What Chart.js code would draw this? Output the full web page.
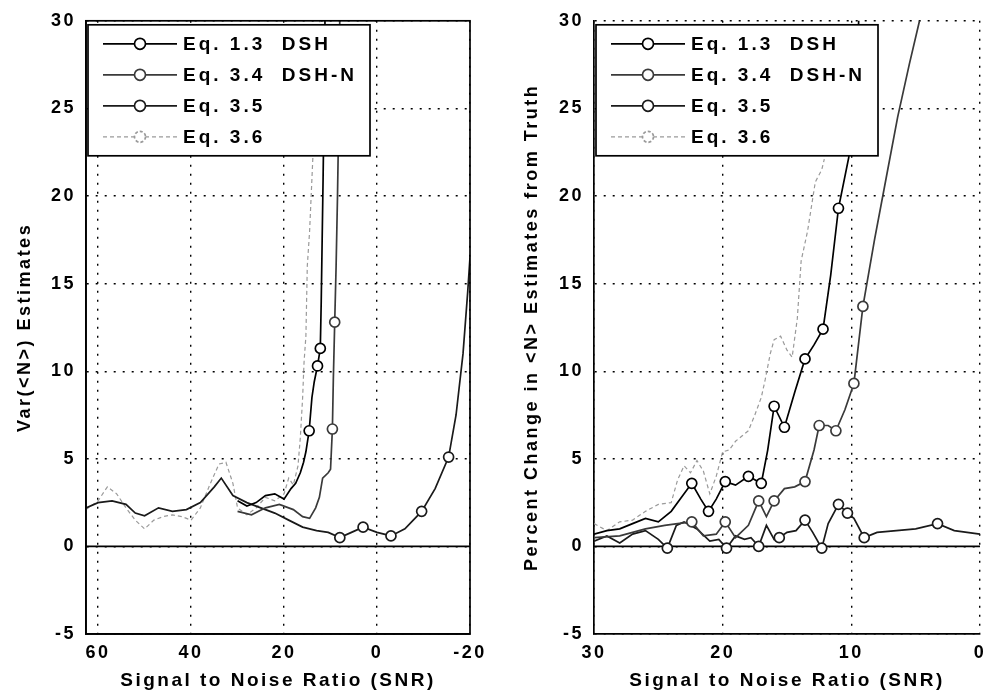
<!DOCTYPE html>
<html><head><meta charset="utf-8">
<script src="https://cdn.jsdelivr.net/npm/chart.js@4/dist/chart.umd.min.js"></script>
<style>
html,body{margin:0;padding:0;background:#fff;}
#wrap{position:relative;width:984px;height:697px;overflow:hidden;}
canvas{position:absolute;top:0;}
#c1{left:0}
#c2{left:492px}
</style></head><body>
<div id="wrap"><canvas id="c1" width="492" height="697"></canvas><canvas id="c2" width="492" height="697"></canvas></div>
<script>
// ---------- labels ----------
const seriesLabels = ["Eq. 1.3  DSH", "Eq. 3.4  DSH-N", "Eq. 3.5", "Eq. 3.6"];
const xTitle = "Signal to Noise Ratio (SNR)";
const leftYTitle = "Var(<N>) Estimates";
const rightYTitle = "Percent Change in <N> Estimates from Truth";
const leftXTicks = [60, 40, 20, 0, -20];
const rightXTicks = [30, 20, 10, 0];
const yTicks = [-5, 0, 5, 10, 15, 20, 25, 30];

// ---------- left panel: Var(<N>) ----------
const leftEq13X = [30, 28, 26, 24, 22, 20, 18.5, 17.5, 16.5, 15.8, 15.3, 14.6, 14.0, 13.5, 12.8, 12.2, 12.0, 11.8, 11.6, 11.4, 11.2];
const leftEq13Y = [2.6, 2.3, 2.5, 2.9, 3.0, 2.7, 3.3, 3.6, 4.2, 4.8, 5.4, 6.6, 8.5, 9.4, 10.3, 11.3, 14, 17.5, 21, 25, 30.5];
const leftEq13Marks = [14.6, 12.8, 12.2];

const leftEq34X = [30, 27, 24, 21, 18, 16, 14.5, 13.2, 12.4, 11.7, 10.5, 10.0, 9.6, 9.4, 9.1, 8.8, 8.5, 8.2, 8.0];
const leftEq34Y = [2.0, 1.8, 2.2, 2.4, 2.1, 1.7, 1.6, 2.2, 2.8, 3.9, 4.2, 4.4, 6.7, 9.5, 12.8, 16, 20, 25, 30.5];
const leftEq34Marks = [9.6, 9.1];

const leftEq35X = [62.6, 60, 57, 54, 52, 50, 47, 44, 41, 38, 35, 33.5, 31, 28, 25, 22, 19, 16, 13, 10.5, 8, 5.5, 3, 0, -3, -6, -9.6, -12.5, -15.4, -17, -18.5, -19.5, -20];
const leftEq35Y = [2.2, 2.5, 2.6, 2.4, 1.9, 1.75, 2.2, 2.0, 2.1, 2.5, 3.4, 3.9, 2.9, 2.5, 2.2, 1.9, 1.5, 1.1, 0.9, 0.8, 0.5, 0.8, 1.1, 0.8, 0.6, 1.0, 2.0, 3.3, 5.1, 7.5, 11, 14.5, 16.5];
const leftEq35Marks = [8, 3, -3, -9.6, -15.4];

const leftEq36X = [62.6, 60, 58, 56, 54, 52, 50, 48, 46, 44, 42, 40, 38, 36, 34, 32.5, 31, 30, 28, 26, 24, 22, 20, 19, 18, 17, 16.5, 16, 15.7, 15.3, 15, 14.5, 14, 13.5, 13, 12.2];
const leftEq36Y = [2.1, 2.6, 3.4, 3.0, 2.2, 1.5, 1.0, 1.5, 1.7, 1.8, 1.7, 1.5, 2.2, 3.5, 4.7, 4.8, 3.6, 2.2, 1.8, 2.2, 2.8, 2.6, 3.0, 3.9, 3.5, 4.6, 6.2, 8.5, 10.5, 12, 16, 18, 21, 24, 27, 30.5];
const leftEq36Marks = [];

// ---------- right panel: percent change ----------
const rightEq13X = [30, 29, 28, 27, 26, 25, 24, 23.2, 22.4, 21.7, 21.1, 20.5, 19.8, 19, 18, 17, 16.5, 16, 15.2, 14.4, 13.6, 12.9, 12.2, 11.6, 11.0, 10.2, 9.6, 9.4];
const rightEq13Y = [0.7, 0.9, 1.0, 1.3, 1.6, 1.4, 2.0, 2.8, 3.6, 2.7, 2.0, 2.7, 3.7, 3.5, 4.0, 3.6, 5.5, 8.0, 6.8, 8.8, 10.7, 11.5, 12.4, 15.5, 19.3, 22.2, 27, 30.5];
const rightEq13Marks = [22.4, 21.1, 19.8, 18, 17, 16, 15.2, 13.6, 12.2, 11.0];

const rightEq34X = [30, 28, 26, 24.5, 23.5, 22.4, 21.5, 20.5, 19.8, 19, 18, 17.2, 16.6, 16.0, 15.2, 14.4, 13.6, 12.9, 12.5, 11.8, 11.2, 10.5, 9.8, 9.1, 8.2, 7.3, 6.4, 5.5, 4.7, 4.5];
const rightEq34Y = [0.5, 0.6, 1.0, 1.2, 1.3, 1.4, 0.6, 0.7, 1.4, 0.5, 1.2, 2.6, 1.7, 2.6, 3.3, 3.4, 3.7, 5.5, 6.9, 6.9, 6.6, 7.8, 9.3, 13.7, 17.5, 21, 24.5, 27.5, 30, 30.5];
const rightEq34Marks = [22.4, 19.8, 17.2, 16.0, 13.6, 12.5, 11.2, 9.8, 9.1];

const rightEq35X = [30, 29, 28, 27, 26, 25, 24.3, 23.6, 23, 22, 21, 20.3, 19.7, 19, 18.3, 17.8, 17.2, 16.6, 16.0, 15.6, 15.0, 14.3, 13.6, 13.0, 12.3, 11.8, 11.0, 10.3, 9.8, 9.0, 8.0, 6.5, 5, 3.3, 2, 0];
const rightEq35Y = [0.3, 0.6, 0.2, 0.7, 0.9, 0.4, -0.1, 1.2, 1.4, 1.0, 0.3, 0.4, -0.1, 0.6, 0.4, 0.5, 0.0, 1.2, 0.4, 0.5, 0.8, 0.9, 1.5, 0.8, -0.1, 1.3, 2.4, 1.9, 1.6, 0.5, 0.8, 0.9, 1.0, 1.3, 0.9, 0.7];
const rightEq35Marks = [24.3, 19.7, 17.2, 15.6, 13.6, 12.3, 11.0, 10.3, 9.0, 3.3];

const rightEq36X = [30, 29, 28, 27, 26, 25, 24, 23.5, 23, 22.5, 22, 21.5, 21, 20.5, 20, 19.5, 19, 18.5, 18, 17.5, 17, 16.7, 16.3, 16.0, 15.5, 15.0, 14.6, 14.2, 13.9, 13.4, 12.8, 12.3, 12.1];
const rightEq36Y = [1.3, 0.9, 1.4, 1.5, 2.0, 2.4, 2.5, 3.8, 4.6, 4.2, 4.9, 4.3, 3.0, 4.0, 5.4, 5.5, 6.0, 6.3, 6.6, 7.5, 8.5, 9.5, 11, 11.8, 12, 11.2, 10.8, 13, 16.3, 18, 20.8, 21.5, 22.1];
const rightEq36Marks = [];

// ---------- styles ----------
const FONT = "'Liberation Sans', Arial, Helvetica, sans-serif";
const seriesColors = ["#000000", "#3a3a3a", "#1a1a1a", "#9a9a9a"];
const seriesDash = [[], [], [], [4, 3]];

function pts(xs, ys) { return xs.map((x, i) => ({x: x, y: ys[i]})); }

function makeDatasets(list) {
  return list.map((s, i) => ({
    label: seriesLabels[i],
    data: pts(s[0], s[1]),
    showLine: true,
    tension: 0,
    borderColor: seriesColors[i],
    borderWidth: i === 3 ? 1.2 : 1.7,
    borderDash: seriesDash[i],
    pointStyle: 'circle',
    pointBackgroundColor: '#ffffff',
    pointBorderColor: seriesColors[i],
    pointBorderWidth: 1.7,
    pointRadius: ctx => (ctx.raw && s[2].includes(ctx.raw.x)) ? 5 : 0,
    pointHoverRadius: 0
  }));
}

const spacingPlugin = {
  id: 'spacing',
  beforeUpdate(chart) { chart.ctx.letterSpacing = '2.5px'; },
  beforeDraw(chart) { chart.ctx.letterSpacing = '2.5px'; }
};

const zeroLinePlugin = {
  id: 'zeroLine',
  beforeDatasetsDraw(chart) {
    const {ctx, chartArea, scales} = chart;
    const y0 = scales.y.getPixelForValue(0);
    ctx.save();
    ctx.strokeStyle = '#000';
    ctx.lineWidth = 1.7;
    ctx.beginPath();
    ctx.moveTo(chartArea.left, y0);
    ctx.lineTo(chartArea.right, y0);
    ctx.stroke();
    ctx.restore();
  }
};

const boxPlugin = {
  id: 'box',
  afterDatasetsDraw(chart, args, opts) {
    if (!opts.full) return;
    const {ctx, chartArea} = chart;
    ctx.save();
    ctx.strokeStyle = '#000';
    ctx.lineWidth = 1.7;
    ctx.strokeRect(chartArea.left, chartArea.top, chartArea.right - chartArea.left, chartArea.bottom - chartArea.top);
    ctx.restore();
  }
};

const legendBoxPlugin = {
  id: 'legendBox',
  afterDatasetsDraw(chart) {
    const {ctx, chartArea} = chart;
    const bx = chartArea.left + 2, by = chartArea.top + 4, bw = 282, bh = 131;
    ctx.save();
    ctx.letterSpacing = '3px';
    ctx.fillStyle = '#fff';
    ctx.fillRect(bx, by, bw, bh);
    ctx.strokeStyle = '#000';
    ctx.lineWidth = 1.7;
    ctx.strokeRect(bx, by, bw, bh);
    chart.data.datasets.forEach((ds, i) => {
      const yy = by + 19 + i * 31;
      ctx.strokeStyle = ds.borderColor;
      ctx.lineWidth = ds.borderWidth;
      ctx.setLineDash(ds.borderDash);
      ctx.beginPath();
      ctx.moveTo(bx + 15, yy);
      ctx.lineTo(bx + 89, yy);
      ctx.stroke();
      ctx.setLineDash(i === 3 ? [3, 2] : []);
      ctx.fillStyle = '#fff';
      ctx.lineWidth = 1.7;
      ctx.beginPath();
      ctx.arc(bx + 52, yy, 5.5, 0, Math.PI * 2);
      ctx.fill();
      ctx.stroke();
      ctx.setLineDash([]);
      ctx.fillStyle = '#000';
      ctx.font = "bold 19px " + FONT;
      ctx.textBaseline = 'middle';
      ctx.textAlign = 'left';
      ctx.fillText(ds.label, bx + 95, yy + 1);
    });
    ctx.restore();
  }
};

function makeChart(canvasId, datasets, xMin, xMax, xTicks, yTitle, yWidth, yTitlePad, rightPad, fullBox) {
  return new Chart(document.getElementById(canvasId), {
    type: 'scatter',
    data: {datasets: datasets},
    options: {
      responsive: false,
      animation: false,
      events: [],
      layout: {padding: {top: 18, right: rightPad, left: 0, bottom: 0}},
      plugins: {legend: {display: false}, tooltip: {enabled: false}, box: {full: fullBox}},
      scales: {
        x: {
          type: 'linear', reverse: true, min: xMin, max: xMax,
          afterBuildTicks: s => { s.ticks = xTicks.map(v => ({value: v})); },
          afterFit: s => { s.height = 63; s.paddingRight = 0; s.paddingLeft = 0; },
          grid: {color: '#000', lineWidth: 1.4, drawTicks: false},
          border: {display: true, color: '#000', width: 1.7, dash: [2, 7]},
          ticks: {color: '#000', font: {family: FONT, size: 18, weight: 'bold'}, padding: 8, maxRotation: 0},
          title: {display: true, text: xTitle, color: '#000', font: {family: FONT, size: 19, weight: 'bold'}, padding: {top: 0, bottom: 5}}
        },
        y: {
          type: 'linear', min: -5, max: 30,
          afterBuildTicks: s => { s.ticks = yTicks.map(v => ({value: v})); },
          afterFit: s => { s.width = yWidth; },
          grid: {color: '#000', lineWidth: 1.4, drawTicks: false},
          border: {display: true, color: '#000', width: 1.7, dash: [2, 7]},
          ticks: {color: '#000', font: {family: FONT, size: 18, weight: 'bold'}, padding: 10},
          title: {display: true, text: yTitle, color: '#000', font: {family: FONT, size: 18, weight: 'bold'}, padding: {top: yTitlePad, bottom: 0}}
        }
      }
    },
    plugins: [spacingPlugin, zeroLinePlugin, boxPlugin, legendBoxPlugin]
  });
}

makeChart('c1', makeDatasets([
  [leftEq13X, leftEq13Y, leftEq13Marks],
  [leftEq34X, leftEq34Y, leftEq34Marks],
  [leftEq35X, leftEq35Y, leftEq35Marks],
  [leftEq36X, leftEq36Y, leftEq36Marks]
]), -20, 62.6, leftXTicks, leftYTitle, 86, 14, 22, true);

makeChart('c2', makeDatasets([
  [rightEq13X, rightEq13Y, rightEq13Marks],
  [rightEq34X, rightEq34Y, rightEq34Marks],
  [rightEq35X, rightEq35Y, rightEq35Marks],
  [rightEq36X, rightEq36Y, rightEq36Marks]
]), 0, 30, rightXTicks, rightYTitle, 102, 29, 4, false);
</script>
</body></html>
